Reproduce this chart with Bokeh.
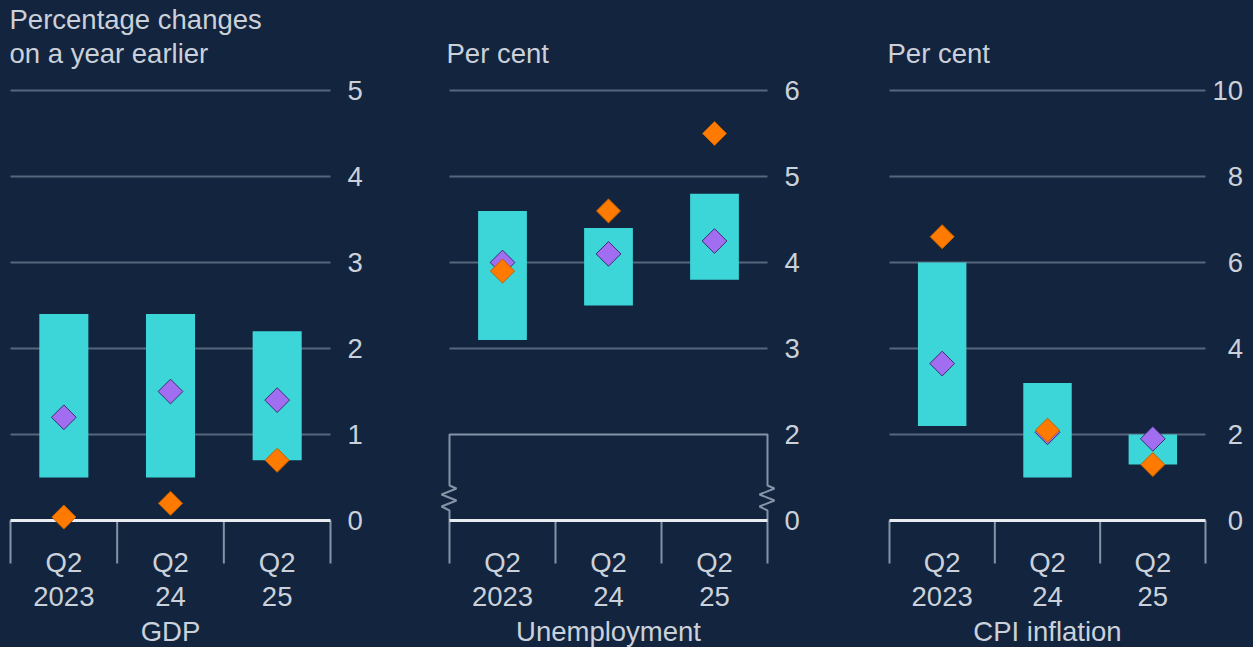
import numpy as np
from bokeh.plotting import figure
from bokeh.layouts import row
from bokeh.models import FixedTicker, Range1d
from bokeh.core.properties import value
from bokeh.embed import file_html
from bokeh.resources import INLINE

# ---------------- data ----------------
quarters = ["Q2", "Q2", "Q2"]
years = ["2023", "24", "25"]

gdp_low = [0.5, 0.5, 0.7]
gdp_high = [2.4, 2.4, 2.2]
gdp_central = [1.2, 1.5, 1.4]      # purple diamonds
gdp_latest = [0.04, 0.2, 0.7]      # orange diamonds

unemp_low = [3.1, 3.5, 3.8]
unemp_high = [4.6, 4.4, 4.8]
unemp_central = [4.0, 4.1, 4.25]
unemp_latest = [3.9, 4.6, 5.5]

cpi_low = [2.2, 1.0, 1.3]
cpi_high = [6.0, 3.2, 2.0]
cpi_central = [3.65, 2.05, 1.9]
cpi_latest = [6.6, 2.1, 1.3]

gdp_ticks = [0, 1, 2, 3, 4, 5]
gdp_tick_labels = ["0", "1", "2", "3", "4", "5"]
unemp_ticks = [1, 2, 3, 4, 5, 6]
unemp_tick_labels = ["0", "2", "3", "4", "5", "6"]
cpi_ticks = [0, 2, 4, 6, 8, 10]
cpi_tick_labels = ["\u20070", "\u20072", "\u20074", "\u20076", "\u20078", "10"]

# ---------------- style ----------------
FONT = "Liberation Sans"
FS = "27.5px"
BG = "#13243e"
TEXT = "#cbd1da"
GRID = "#56667c"
SEP = "#8593a6"
ZERO = "#e8ecf1"
BAR = "#3dd6d8"
PURPLE = "#a16ef2"
PURPLE_EDGE = "#3b2d6b"
ORANGE = "#ff7a00"
ORANGE_EDGE = "#c45f00"

FIG_H = 647
PAGE_TOP = 0
PAGE_BOTTOM = PAGE_TOP + FIG_H


def make_panel(title_lines, name, low, high, central, latest, ticks, tick_labels,
               zero_tick, grid_ticks, fig_left, fig_right, grid_left, grid_right,
               frame_pad, ref_tick, ref_page, ppu_y, standoff, title_dx=0,
               broken=False):
    n = len(low)
    xs = np.arange(n)
    ppu_x = (grid_right - grid_left) / n
    frame_left = grid_left - frame_pad
    frame_right = grid_right + frame_pad
    x0 = -0.5 - frame_pad / ppu_x
    x1 = n - 0.5 + frame_pad / ppu_x

    def yv(py):
        return ref_tick - (py - ref_page) / ppu_y

    p = figure(width=fig_right - fig_left, height=FIG_H,
               x_range=Range1d(x0, x1), y_range=Range1d(yv(PAGE_BOTTOM), yv(PAGE_TOP)),
               y_axis_location="right", x_axis_location=None,
               output_backend="svg", toolbar_location=None,
               min_border_left=frame_left - fig_left,
               min_border_right=fig_right - frame_right,
               min_border_top=0, min_border_bottom=0,
               background_fill_color=BG, border_fill_color=BG,
               outline_line_color=None,
               styles={"background-color": BG})
    p.grid.visible = False

    # horizontal gridlines
    p.segment(x0=-0.5, x1=n - 0.5, y0=grid_ticks, y1=grid_ticks,
              line_color=GRID, line_width=2)

    # category separators below the zero line
    bounds = np.arange(n + 1) - 0.5
    p.segment(x0=bounds, x1=bounds, y0=zero_tick, y1=yv(563),
              line_color=SEP, line_width=2)

    if broken:
        # box from the first gridline down to the zero line, with break marks
        zz_dx = [0, 0, -8, 7, -8, 7, 0, 0]
        zz_py = [520, 510, 506, 500, 494, 488, 485, 434]
        top = grid_ticks[0] - 1  # value 2
        lx = [-0.5 + d / ppu_x for d in zz_dx]
        ly = [yv(py) for py in zz_py]
        ly[-1] = top
        rx = [n - 0.5 + d / ppu_x for d in zz_dx]
        p.line(x=lx + rx[::-1], y=ly + ly[::-1], line_color=SEP, line_width=2)

    # zero line
    p.segment(x0=-0.5, x1=n - 0.5, y0=zero_tick, y1=zero_tick,
              line_color=ZERO, line_width=3)

    # bars (ranges)
    p.vbar(x=xs, width=0.46, bottom=low, top=high, fill_color=BAR, line_color=None)

    # diamonds
    p.scatter(x=xs, y=central, marker="square", angle=np.pi / 4, size=17.5,
              fill_color=PURPLE, line_color=PURPLE_EDGE, line_width=1)
    p.scatter(x=xs, y=latest, marker="square", angle=np.pi / 4, size=17,
              fill_color=ORANGE, line_color=ORANGE_EDGE, line_width=1)

    txt = dict(text_font=value(FONT), text_font_size=value(FS), text_color=TEXT,
               text_baseline="alphabetic")
    # category labels
    p.text(x=xs, y=[yv(562)] * n, text=quarters, text_align="center", **txt)
    p.text(x=xs, y=[yv(596)] * n, text=years, text_align="center", **txt)
    p.text(x=[(n - 1) / 2], y=[yv(631)], text=[name], text_align="center", **txt)

    # title lines (unit)
    m = len(title_lines)
    ty = [yv(52.5 - 34 * (m - 1 - i)) for i in range(m)]
    p.text(x=[-0.5] * m, y=ty, text=title_lines, text_align="left",
           x_offset=title_dx, **txt)

    ax = p.yaxis[0]
    ax.ticker = FixedTicker(ticks=ticks)
    ax.major_label_overrides = dict(zip(ticks, tick_labels))
    ax.axis_line_color = None
    ax.major_tick_line_color = None
    ax.minor_tick_line_color = None
    ax.major_tick_out = 0
    ax.major_tick_in = 0
    ax.major_label_standoff = standoff
    ax.major_label_text_font = FONT
    ax.major_label_text_font_size = FS
    ax.major_label_text_color = TEXT
    return p


p1 = make_panel(["Percentage changes", "on a year earlier"], "GDP",
                gdp_low, gdp_high, gdp_central, gdp_latest,
                gdp_ticks, gdp_tick_labels, 0, [1, 2, 3, 4, 5],
                fig_left=0, fig_right=435, grid_left=10, grid_right=330,
                frame_pad=2, ref_tick=5, ref_page=90, ppu_y=86, standoff=15,
                title_dx=-1)

p2 = make_panel(["Per cent"], "Unemployment",
                unemp_low, unemp_high, unemp_central, unemp_latest,
                unemp_ticks, unemp_tick_labels, 1, [3, 4, 5, 6],
                fig_left=435, fig_right=882, grid_left=449, grid_right=767,
                frame_pad=12, ref_tick=6, ref_page=90, ppu_y=86, standoff=5,
                title_dx=-3, broken=True)

p3 = make_panel(["Per cent"], "CPI inflation",
                cpi_low, cpi_high, cpi_central, cpi_latest,
                cpi_ticks, cpi_tick_labels, 0, [2, 4, 6, 8, 10],
                fig_left=882, fig_right=1253, grid_left=889, grid_right=1205,
                frame_pad=3, ref_tick=10, ref_page=90, ppu_y=43, standoff=4,
                title_dx=-2)

layout = row(p1, p2, p3, styles={"background-color": BG})
open("out.html", "w").write(file_html(layout, INLINE))
